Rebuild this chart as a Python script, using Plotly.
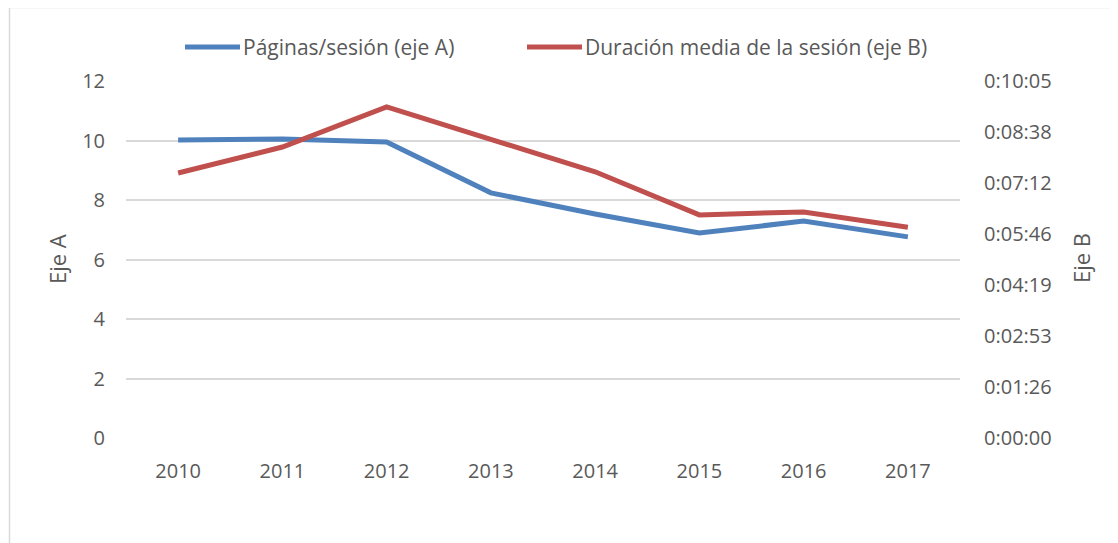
import plotly.graph_objects as go

years = ["2010", "2011", "2012", "2013", "2014", "2015", "2016", "2017"]
pages_per_session = [10.02, 10.05, 9.95, 8.24, 7.53, 6.89, 7.29, 6.76]
# average session duration in seconds
avg_duration_s = [449, 493, 561, 505, 451, 378, 383, 357]

left_ticks = [0, 2, 4, 6, 8, 10, 12]
right_tickvals = [0, 86.4, 172.8, 259.2, 345.6, 432.0, 518.4, 604.8]
right_ticktext = ["0:00:00", "0:01:26", "0:02:53", "0:04:19", "0:05:46", "0:07:12", "0:08:38", "0:10:05"]

name_a = "Páginas/sesión (eje A)"
name_b = "Duración media de la sesión (eje B)"

blue = "#4F81BD"
red = "#C0504D"
txt = "#595959"
grid = "#D9D9D9"
font = "Open Sans"

# plot area in screen pixels (page has an 8px body offset)
PL, PR, PT, PB = 126, 960, 81, 438
PW, PH = PR - PL, PB - PT


def px(x):
    return (x - PL) / PW


def py(y):
    return (PB - y) / PH


fig = go.Figure()
fig.add_trace(go.Scatter(x=years, y=pages_per_session, mode="lines", name=name_a,
                         line=dict(color=blue, width=5), yaxis="y", showlegend=False))
fig.add_trace(go.Scatter(x=years, y=avg_duration_s, mode="lines", name=name_b,
                         line=dict(color=red, width=5), yaxis="y2", showlegend=False))

fig.update_layout(
    width=1118, height=543,
    margin=dict(l=PL - 8, r=1118 - (PL - 8) - PW, t=PT - 8, b=543 - (PT - 8) - PH),
    paper_bgcolor="white", plot_bgcolor="white",
    font=dict(family=font, size=20, color=txt),
    showlegend=False,
    xaxis=dict(type="category", range=[-0.5, 7.5], showgrid=False, zeroline=False,
               showline=False, ticks="", tickfont=dict(size=20, color=txt),
               ticklabelstandoff=19),
    yaxis=dict(range=[0, 12], tickvals=left_ticks, showgrid=True, gridcolor=grid,
               gridwidth=1.5, zeroline=False, showline=False, ticks="",
               tickfont=dict(size=20, color=txt), ticklabelstandoff=20),
    yaxis2=dict(range=[0, 604.8], overlaying="y", side="right", tickvals=right_tickvals,
                ticktext=right_ticktext, showgrid=False, zeroline=False, showline=False,
                ticks="", tickfont=dict(size=20, color=txt), ticklabelstandoff=23),
    annotations=[
        dict(text="Eje A", xref="paper", yref="paper", x=px(57), y=py(259),
             textangle=-90, showarrow=False, xanchor="center", yanchor="middle",
             font=dict(size=22, color=txt, family=font)),
        dict(text="Eje B", xref="paper", yref="paper", x=px(1081), y=py(258),
             textangle=-90, showarrow=False, xanchor="center", yanchor="middle",
             font=dict(size=22, color=txt, family=font)),
        dict(text=name_a, xref="paper", yref="paper", x=px(241), y=py(47),
             showarrow=False, xanchor="left", yanchor="middle",
             font=dict(size=21, color=txt, family=font)),
        dict(text=name_b, xref="paper", yref="paper", x=px(583), y=py(47),
             showarrow=False, xanchor="left", yanchor="middle",
             font=dict(size=21, color=txt, family=font)),
    ],
    shapes=[
        dict(type="rect", xref="paper", yref="paper",
             x0=px(9.5), x1=1.5, y0=-1.0, y1=py(7.5),
             line=dict(color=grid, width=1.5), fillcolor="rgba(0,0,0,0)", layer="below"),
        dict(type="line", xref="paper", yref="paper", x0=px(185), x1=px(240),
             y0=py(47), y1=py(47), line=dict(color=blue, width=5)),
        dict(type="line", xref="paper", yref="paper", x0=px(527), x1=px(582),
             y0=py(47), y1=py(47), line=dict(color=red, width=5)),
    ],
)

fig.write_html("out.html")
